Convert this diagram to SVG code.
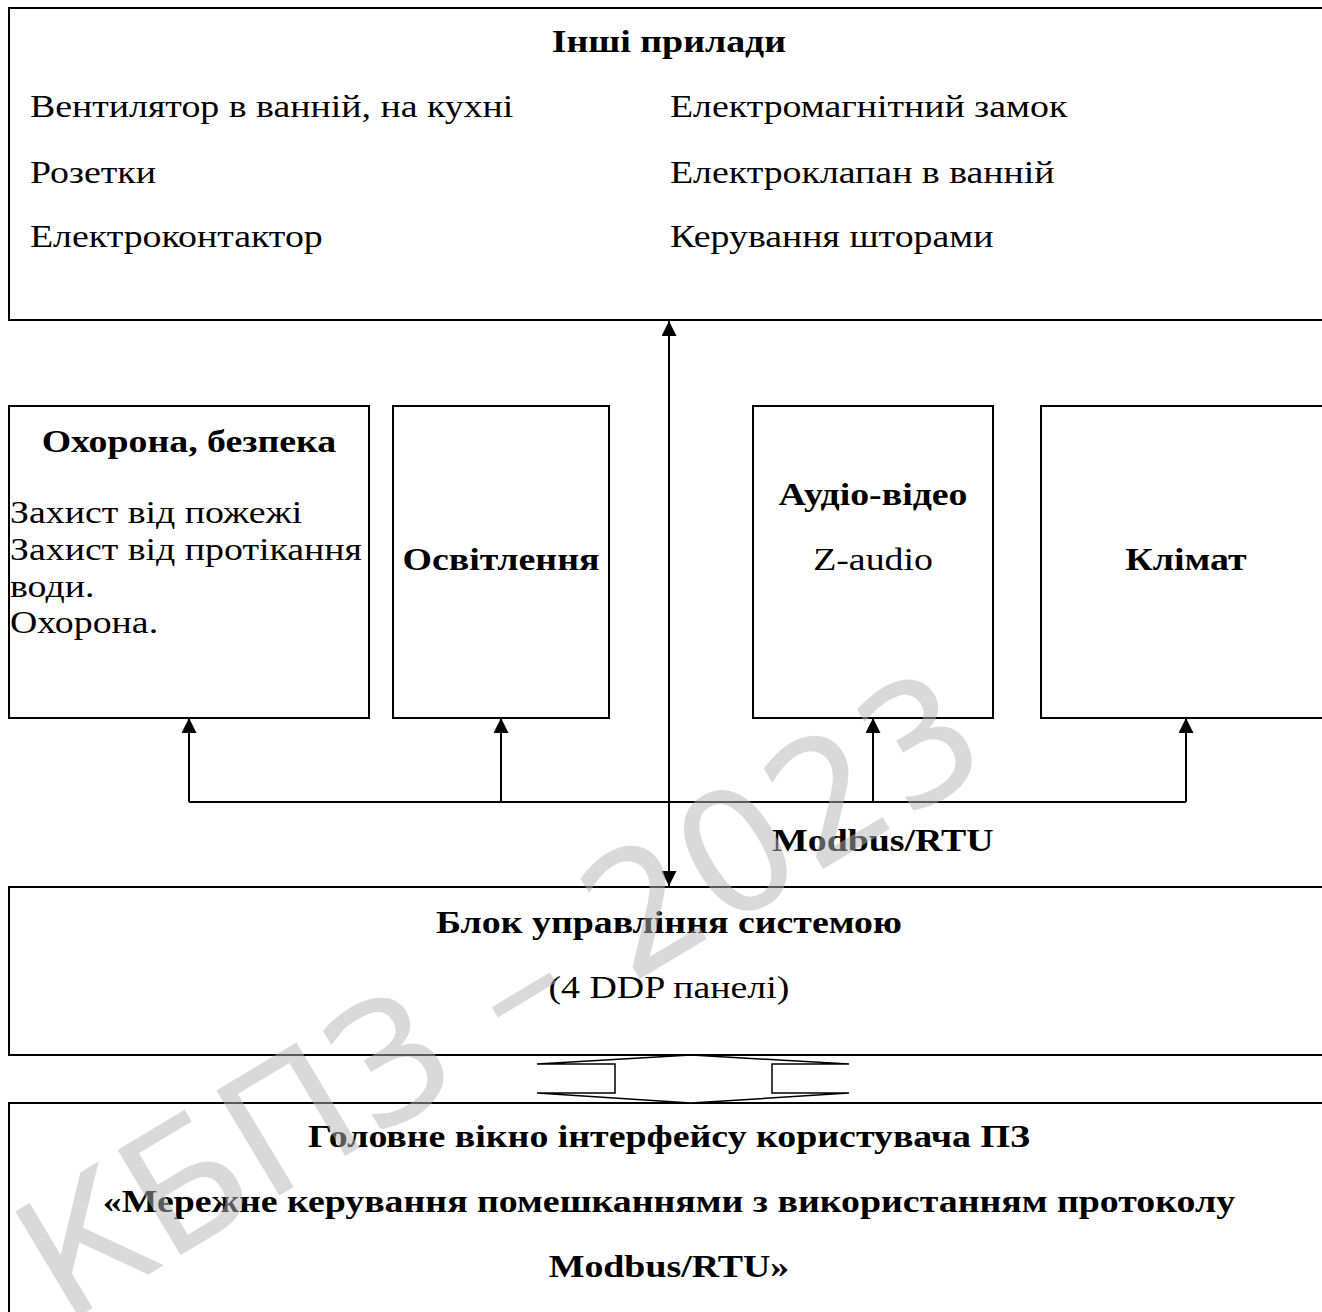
<svg xmlns="http://www.w3.org/2000/svg" width="1322" height="1312" viewBox="0 0 1322 1312">
<style>
.box{fill:#fff;stroke:#000;stroke-width:2}
.t{font-family:"Liberation Serif","Times New Roman",serif;font-size:32.5px;fill:#000}
.b{font-weight:bold}
.c{text-anchor:middle}
.ln{fill:none;stroke:#000;stroke-width:2}
.wm{font-family:"DejaVu Sans","Liberation Sans",sans-serif;font-size:168px;fill:#b4b4b4;opacity:0.5}
</style>
<defs>
<marker id="ah" viewBox="0 0 15 15" refX="15" refY="7.5" markerWidth="15" markerHeight="15" markerUnits="userSpaceOnUse" orient="auto-start-reverse">
<path d="M0,0 L15,7.5 L0,15 Z" fill="#000"/>
</marker>
</defs>
<rect width="1322" height="1312" fill="#fff"/>
<g id="other">
<rect class="box" x="9" y="8" width="1340" height="312"/>
<text class="t b c" x="574.2" y="52" transform="scale(1.165 1)">Інші прилади</text>
<text class="t" x="25.75" y="117" transform="scale(1.165 1)">Вентилятор в ванній, на кухні</text>
<text class="t" x="25.75" y="183" transform="scale(1.165 1)">Розетки</text>
<text class="t" x="25.75" y="247" transform="scale(1.165 1)">Електроконтактор</text>
<text class="t" x="575.1" y="117" transform="scale(1.165 1)">Електромагнітний замок</text>
<text class="t" x="575.1" y="183" transform="scale(1.165 1)">Електроклапан в ванній</text>
<text class="t" x="575.1" y="247" transform="scale(1.165 1)">Керування шторами</text>
</g>
<g id="security">
<rect class="box" x="9" y="406" width="360" height="312"/>
<text class="t b c" x="162.2" y="452" transform="scale(1.165 1)">Охорона, безпека</text>
<text class="t" x="8.6" y="523" transform="scale(1.165 1)">Захист від пожежі</text>
<text class="t" x="8.6" y="560" transform="scale(1.165 1)">Захист від протікання</text>
<text class="t" x="8.6" y="597" transform="scale(1.165 1)">води.</text>
<text class="t" x="8.6" y="633" transform="scale(1.165 1)">Охорона.</text>
</g>
<g id="lighting">
<rect class="box" x="393" y="406" width="216" height="312"/>
<text class="t b c" x="430.0" y="570" transform="scale(1.165 1)">Освітлення</text>
</g>
<g id="av">
<rect class="box" x="753" y="406" width="240" height="312"/>
<text class="t b c" x="749.4" y="505" transform="scale(1.165 1)">Аудіо-відео</text>
<text class="t c" x="749.4" y="570" transform="scale(1.165 1)">Z-audio</text>
</g>
<g id="climate">
<rect class="box" x="1041" y="406" width="300" height="312"/>
<text class="t b c" x="1018.0" y="570" transform="scale(1.165 1)">Клімат</text>
</g>
<g id="control">
<rect class="box" x="9" y="887" width="1340" height="168"/>
<text class="t b c" x="574.2" y="933" transform="scale(1.165 1)">Блок управління системою</text>
<text class="t c" x="574.2" y="998" transform="scale(1.165 1)">(4 DDP панелі)</text>
</g>
<g id="mainwin">
<rect class="box" x="9" y="1103" width="1340" height="230"/>
<text class="t b c" x="574.2" y="1147" transform="scale(1.165 1)">Головне вікно інтерфейсу користувача ПЗ</text>
<text class="t b c" x="574.2" y="1212" transform="scale(1.165 1)">«Мережне керування помешканнями з використанням протоколу</text>
<text class="t b c" x="574.2" y="1277" transform="scale(1.165 1)">Modbus/RTU»</text>
</g>
<g id="connectors">
<path class="ln" d="M189,802 H1186"/>
<path class="ln" d="M189,802 V718" marker-end="url(#ah)"/>
<path class="ln" d="M501,802 V718" marker-end="url(#ah)"/>
<path class="ln" d="M873,802 V718" marker-end="url(#ah)"/>
<path class="ln" d="M1186,802 V718" marker-end="url(#ah)"/>
<path class="ln" d="M669,886 V321" marker-start="url(#ah)" marker-end="url(#ah)"/>
<polygon points="691,1055 849,1064 772,1064 772,1093 849,1093 691,1103 537,1093 615,1093 615,1064 537,1064" fill="#fff" stroke="#000" stroke-width="1.5"/>
<text class="t b" x="662.7" y="851" transform="scale(1.165 1)">Modbus/RTU</text>
</g>
<text class="wm c" x="530" y="1045" transform="rotate(-31 530 1045)">КБПЗ – 2023</text>
</svg>
